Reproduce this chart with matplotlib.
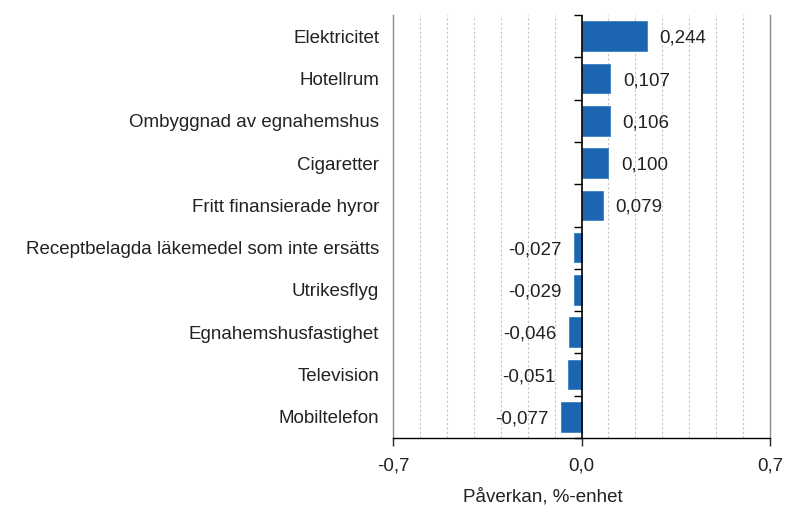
import matplotlib.pyplot as plt
import numpy as np
from matplotlib.markers import TICKLEFT
from matplotlib.ticker import MultipleLocator

plt.rcParams['font.family'] = ['Liberation Sans', 'DejaVu Sans']

# data, top to bottom
categories = ["Elektricitet", "Hotellrum", "Ombyggnad av egnahemshus", "Cigaretter",
              "Fritt finansierade hyror", "Receptbelagda läkemedel som inte ersätts",
              "Utrikesflyg", "Egnahemshusfastighet", "Television", "Mobiltelefon"]
values = [0.244, 0.107, 0.106, 0.100, 0.079, -0.027, -0.029, -0.046, -0.051, -0.077]
xticks = [-0.7, 0.0, 0.7]
xtick_labels = ["-0,7", "0,0", "0,7"]
xlabel = "Påverkan, %-enhet"

bar_color = '#1c65b0'
fs = 13.5

fig = plt.figure(figsize=(7.88, 5.12), dpi=100)
ax = fig.add_axes([393/788, 1 - 438/512, (770 - 393)/788, (438 - 15)/512])

y = np.arange(len(categories))
ax.barh(y, values, height=0.7, color=bar_color, edgecolor='#3d7fc4', linewidth=0.6, zorder=3)

ax.set_xlim(-0.7, 0.7)
ax.set_ylim(len(categories) - 0.5, -0.5)

# x axis
ax.set_xticks(xticks)
ax.set_xticklabels(xtick_labels, fontsize=fs)
ax.xaxis.set_minor_locator(MultipleLocator(0.1))
ax.tick_params(axis='x', which='major', direction='out', length=6, width=1, pad=8, colors='#222222')
ax.tick_params(axis='x', which='minor', length=0)
ax.grid(axis='x', which='minor', color='#c4c4c4', linestyle=(0, (2, 2)), linewidth=0.8, zorder=0)

# category labels on left
ax.set_yticks(y)
ax.set_yticklabels(categories, fontsize=fs, color='#222222')
ax.tick_params(axis='y', length=0, pad=10)

for side in ['left', 'right']:
    ax.spines[side].set_color('#8c8c8c')
    ax.spines[side].set_linewidth(1.0)
ax.spines['top'].set_visible(False)
ax.spines['bottom'].set_color('black')
ax.spines['bottom'].set_linewidth(1.0)

# zero axis with tick marks between categories (pointing left)
ax.axvline(0, color='black', linewidth=1.2, zorder=4)
bounds = np.arange(-0.5, len(categories), 1.0)
ax.plot(np.zeros_like(bounds), bounds, linestyle='none', marker=TICKLEFT,
        markersize=6, markeredgewidth=1, color='black', zorder=4, clip_on=False)

# value labels
for yi, v in zip(y, values):
    txt = f"{v:.3f}".replace('.', ',')
    if v >= 0:
        ax.annotate(txt, (v, yi), xytext=(9, -1.5), textcoords='offset points',
                    ha='left', va='center', fontsize=fs, color='#222222')
    else:
        ax.annotate(txt, (v, yi), xytext=(-9, -1.5), textcoords='offset points',
                    ha='right', va='center', fontsize=fs, color='#222222')

fig.text(543/788, 1 - 497/512, xlabel, ha='center', va='center', fontsize=fs, color='#222222')

fig.savefig('out.png', dpi=100)
